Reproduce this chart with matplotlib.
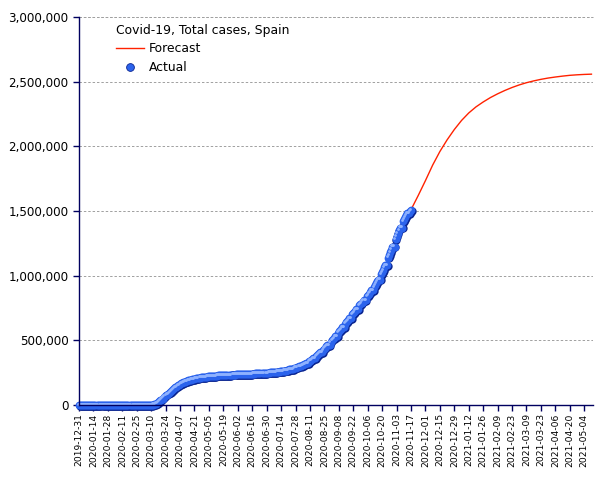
"""
plot.py - Covid-19 total cases in Spain, actual vs forecast.
Saves out.png (605x480).
"""
import matplotlib
matplotlib.use("Agg")
import matplotlib.pyplot as plt
import matplotlib.transforms as mtransforms
from matplotlib.lines import Line2D
from matplotlib.ticker import FuncFormatter, MultipleLocator
import pandas as pd

# ---------------------------------------------------------------------------
# Data
# ---------------------------------------------------------------------------
ACTUAL_START = "2019-12-31"

actual_dec_jan = [0] * 32
actual_feb = [1] * 9 + [2] * 15 + [6, 13, 15, 32, 45]
actual_mar = [84, 120, 165, 228, 282, 401, 525, 674, 1231, 1695,
              2277, 3146, 5232, 7753, 11178, 16000, 22000, 28500, 35000, 42500,
              50000, 58000, 66000, 73500, 81000, 88000, 95500, 103000, 110000, 117000,
              123500]
actual_apr = [130000, 136000, 142000, 147500, 152500, 157500, 162000, 166500, 170500, 174500,
              178000, 181000, 184000, 186800, 189500, 192000, 194500, 197000, 199200, 201300,
              203300, 205200, 207000, 208800, 210500, 212000, 213400, 214700, 216000, 217200]
actual_may = [218300, 219300, 220200, 221100, 222000, 222800, 223600, 224400, 225100, 225800,
              226500, 227100, 227700, 228300, 228900, 229500, 230000, 230500, 231000, 231500,
              232000, 232500, 233000, 233400, 233800, 234200, 234600, 235000, 235400, 235800,
              236200]
actual_jun = [236600, 237000, 237400, 237800, 238200, 238600, 239000, 239400, 239800, 240200,
              240600, 241000, 241400, 241800, 242200, 242600, 243000, 243500, 244000, 244500,
              245000, 245500, 246000, 246500, 247000, 247500, 248000, 248500, 249000, 249500]
actual_jul = [250200, 251000, 251800, 251800, 251800, 254000, 255500, 256500, 257500, 258500,
              258500, 258500, 261500, 262700, 264000, 265300, 266700, 266700, 266700, 271000,
              273000, 275000, 277500, 280000, 280000, 280000, 287000, 289500, 292000, 295000,
              298000]
actual_aug = [298000, 298000, 307000, 311000, 315500, 320000, 325000, 325000, 325000, 338000,
              343500, 349500, 355500, 361500, 361500, 361500, 378000, 385000, 392500, 400000,
              408000, 408000, 408000, 428000, 436000, 444500, 453000, 462000, 462000, 462000,
              485000]
actual_sep = [500000, 510000, 520000, 530000, 530000, 530000, 560000, 570000, 580000, 590000,
              600000, 600000, 600000, 630000, 640000, 650000, 660000, 670000, 670000, 670000,
              700000, 710000, 720000, 730000, 740000, 740000, 740000, 770000, 780000, 790000]
actual_oct = [800000, 810000, 810000, 810000, 840000, 850000, 862000, 874000, 886000, 886000,
              886000, 915000, 928000, 942000, 956000, 970000, 970000, 970000, 1010000, 1027000,
              1045000, 1065000, 1085000, 1085000, 1085000, 1140000, 1160000, 1180000, 1202000, 1225000,
              1225000]
actual_nov = [1225000, 1285000, 1305000, 1328000, 1350000, 1372000, 1372000, 1372000, 1420000, 1435000,
              1452000, 1468000, 1482000, 1482000, 1482000, 1500000, 1510000]

FORECAST_START = "2020-11-17"
forecast = [1510000, 1620000, 1735000, 1855000, 1960000, 2050000, 2130000, 2200000,
            2258000, 2305000, 2343000, 2377000, 2406000, 2432000, 2455000, 2475000,
            2492000, 2506000, 2518000, 2528000, 2536000, 2543000, 2549000, 2553000,
            2556000, 2558000]

TITLE = "Covid-19, Total cases, Spain"

NAVY = "#000060"
RED = "#ff2200"
BLUE = "#2b63ec"
SHADE = "#0b2590"
HIGHLIGHT = "#8fb2ff"


def shifted(ax, fig, dx, dy):
    return mtransforms.offset_copy(ax.transData, fig=fig, x=dx, y=dy, units="points")


def main():
    actual = (actual_dec_jan + actual_feb + actual_mar + actual_apr + actual_may
              + actual_jun + actual_jul + actual_aug + actual_sep + actual_oct + actual_nov)
    actual_dates = pd.date_range(ACTUAL_START, periods=len(actual), freq="D")
    forecast_dates = pd.date_range(FORECAST_START, periods=len(forecast), freq="7D")

    fig = plt.figure(figsize=(6.05, 4.8), dpi=100)
    ax = fig.add_axes([79 / 605, 1 - 405 / 480, 514 / 605, 388 / 480])

    # forecast line
    ax.plot(forecast_dates, forecast, color=RED, lw=1.0, zorder=3)

    # actual: shaded "spheres" (dark shadow, blue body, light highlight)
    ax.plot(actual_dates, actual, ls="none", marker="o", ms=6.0, mfc=SHADE, mec="none",
            zorder=4, clip_on=False, transform=shifted(ax, fig, 0.6, -0.6))
    ax.plot(actual_dates, actual, ls="none", marker="o", ms=5.6, mfc=BLUE, mec="none",
            zorder=5, clip_on=False)
    ax.plot(actual_dates, actual, ls="none", marker="o", ms=2.0, mfc=HIGHLIGHT, mec="none",
            zorder=6, clip_on=False, transform=shifted(ax, fig, -0.8, 0.8))

    # axes styling
    ax.set_ylim(0, 3000000)
    ax.set_xlim(pd.Timestamp("2019-12-31"), pd.Timestamp("2021-05-12 12:00"))
    ax.yaxis.set_major_locator(MultipleLocator(500000))
    ax.yaxis.set_major_formatter(FuncFormatter(lambda v, p: f"{int(v):,}"))
    ticks = pd.date_range("2019-12-31", "2021-05-04", freq="14D")
    ax.set_xticks(ticks)
    ax.set_xticklabels([t.strftime("%Y-%m-%d") for t in ticks], rotation=90, fontsize=6.6)
    ax.tick_params(axis="y", labelsize=8.6, colors=NAVY, labelcolor="black",
                   length=4, width=1, direction="out")
    ax.tick_params(axis="x", colors=NAVY, labelcolor="black",
                   length=4, width=1, direction="out", pad=2)
    for side in ("top", "right"):
        ax.spines[side].set_visible(False)
    for side in ("left", "bottom"):
        ax.spines[side].set_color(NAVY)
        ax.spines[side].set_linewidth(1.0)
        ax.spines[side].set_zorder(7)

    ax.grid(axis="y", color="#a0a0a0", ls=(0, (2.5, 2)), lw=0.7)
    ax.set_axisbelow(True)
    ax.axhline(3000000, color="#a0a0a0", ls=(0, (2.5, 2)), lw=0.7, zorder=0, clip_on=False)

    handles = [
        Line2D([], [], color=RED, lw=1.0),
        Line2D([], [], ls="none", marker="o", ms=5.6, mfc=BLUE, mec=SHADE, mew=0.6),
    ]
    leg = ax.legend(handles, ["Forecast", "Actual"], title=TITLE, loc="upper left",
                    bbox_to_anchor=(0.062, 0.995), frameon=False, fontsize=8.9,
                    title_fontsize=8.9, handlelength=2.3, handletextpad=0.35,
                    labelspacing=0.45, borderaxespad=0.0)
    leg._legend_box.align = "left"

    fig.savefig("out.png", dpi=100, facecolor="white")
    plt.close(fig)


if __name__ == "__main__":
    main()
